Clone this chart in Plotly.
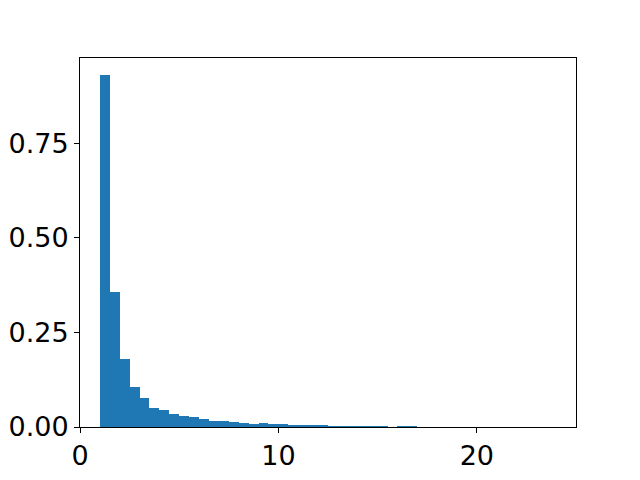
import plotly.graph_objects as go

# histogram bins (left edges, width 0.5) and density heights
bin_left = [1.0, 1.5, 2.0, 2.5, 3.0, 3.5, 4.0, 4.5, 5.0, 5.5,
            6.0, 6.5, 7.0, 7.5, 8.0, 8.5, 9.0, 9.5, 10.0, 10.5,
            11.0, 11.5, 12.0, 12.5, 13.0, 13.5, 14.0, 14.5, 15.0, 15.5,
            16.0, 16.5]
bin_width = 0.5
density = [0.929, 0.356, 0.179, 0.106, 0.077, 0.051, 0.046, 0.035, 0.030, 0.027,
           0.021, 0.016, 0.016, 0.013, 0.0106, 0.0088, 0.0106, 0.008, 0.008, 0.0053,
           0.0053, 0.0053, 0.0053, 0.0026, 0.0026, 0.0026, 0.0026, 0.0026, 0.0026, 0.0,
           0.0026, 0.0026]

x_ticks = [0, 10, 20]
y_ticks = [0.0, 0.25, 0.5, 0.75]
y_ticktext = ["0.00", "0.25", "0.50", "0.75"]

BLUE = "#1f77b4"
FONT = "DejaVu Sans"

fig = go.Figure(go.Bar(
    x=[b + bin_width / 2 for b in bin_left],
    y=density,
    width=bin_width,
    marker=dict(color=BLUE, line=dict(width=0)),
))

axis_common = dict(
    showgrid=False,
    zeroline=False,
    showline=True,
    linecolor="black",
    linewidth=1,
    mirror=True,
    ticks="outside",
    ticklen=5,
    tickwidth=1,
    tickcolor="black",
    automargin=False,
    tickfont=dict(family=FONT, size=27, color="black"),
)

# page body adds an 8px offset, so margins are trimmed to land the axes at 80..576 / 58..427
fig.update_layout(
    width=640,
    height=480,
    margin=dict(l=72, r=72, t=50, b=61),
    paper_bgcolor="white",
    plot_bgcolor="white",
    showlegend=False,
    bargap=0,
    xaxis=dict(range=[0, 25], tickvals=x_ticks, **axis_common),
    yaxis=dict(range=[0, 0.975], tickvals=y_ticks, ticktext=y_ticktext, **axis_common),
)

fig.write_html("out.html")
